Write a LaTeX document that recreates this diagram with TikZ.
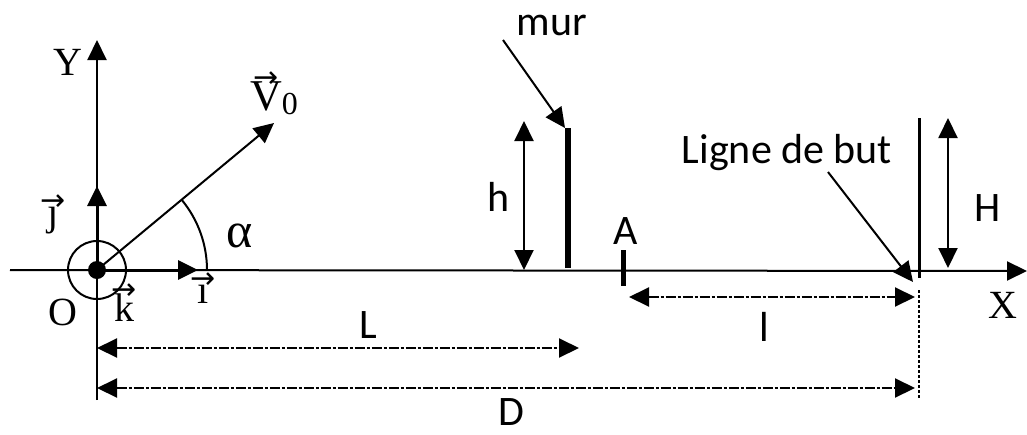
\documentclass[tikz,border=0pt]{standalone}
\usepackage{fontspec}
\setmainfont{Liberation Serif}
\newfontfamily\lbl{Carlito}
\newfontfamily\arrfont{DejaVu Sans}
\usetikzlibrary{arrows.meta}
\newcommand{\vecl}[2][0.55em]{\ooalign{#2\cr\hidewidth\raisebox{#1}{\arrfont\fontsize{30}{30}\selectfont →}\hidewidth\cr}}
\begin{document}
\begin{tikzpicture}[x=1pt,y=-1pt,
  tip/.style={-{Triangle[length=20pt,width=19pt]}},
  dtip/.style={{Triangle[length=20pt,width=19pt]}-{Triangle[length=20pt,width=19pt]}},
  axis/.style={line width=2pt},
  dimline/.style={line width=2pt,dash pattern=on 10pt off 2pt on 3pt off 2pt},
  sanslbl/.style={font=\lbl\fontsize{42}{42}\selectfont,inner sep=0pt},
  seriflbl/.style={font=\fontsize{40}{40}\selectfont,inner sep=0pt}]
\useasboundingbox (0,0) rectangle (1027,434);
\fill[white] (0,0) rectangle (1027,434);
% points
\coordinate (O) at (97,270);
\coordinate (xl) at (10,270);
\coordinate (xr) at (1027,271);
\coordinate (yb) at (97,400);
\coordinate (yt) at (97,40);
\coordinate (jt) at (97,186);
\coordinate (it) at (198,270);
\coordinate (vt) at (274,123);
% axes
\draw[axis,tip] (xl) -- (xr);
\draw[axis,tip] (yb) -- (yt);
\draw[line width=3pt,tip] (O) -- (jt);
\draw[line width=3pt,tip] (O) -- (it);
\draw[line width=2pt] (O) circle[radius=29];
\fill (O) circle[radius=9];
\draw[line width=2pt,tip] (O) -- (vt);
\draw[line width=2pt] ([xshift=110pt]O) arc[start angle=0,end angle=-39.6,radius=110];
% labels near origin
\node[seriflbl] (Ylbl) at (68,62) {Y};
\node[seriflbl] (Olbl) at (63,312) {O};
\node[seriflbl] (klbl) at (124,308) {\vecl{k}};
\node[seriflbl] (ilbl) at (203,294) {\vecl[0.36em]{ı}};
\node[seriflbl] (jlbl) at (53,216) {\vecl[0.36em]{ȷ}};
\node[font=\fontsize{44}{44}\selectfont,inner sep=0pt] (vlbl) at (274,98) {\vecl[0.52em]{V}\raisebox{-0.1em}{\fontsize{32}{32}\selectfont 0}};
\node[font=\fontsize{50}{50}\selectfont,inner sep=0pt] (alpha) at (240,236) {α};
% wall
\coordinate (wb) at (568,268);
\coordinate (wt) at (568,128);
\draw[line width=6pt] (wb) -- (wt);
\node[sanslbl] (mur) at (552,25) {mur};
\coordinate (mura) at (503,40);
\draw[line width=2pt,tip] (mura) -- ([xshift=-3pt]wt);
\coordinate (hb) at (524,270);
\coordinate (ht) at (524,121);
\draw[line width=2pt,dtip] (hb) -- (ht);
\node[sanslbl] (hlbl) at (499,197) {h};
% point A
\coordinate (At) at (623,250);
\coordinate (Ab) at (623,286);
\draw[line width=5pt] (At) -- (Ab);
\node[sanslbl] (Albl) at (626,231) {A};
% goal line
\coordinate (gt) at (919,118);
\coordinate (gb) at (919,278);
\draw[line width=3pt] (gt) -- (gb);
\coordinate (Ht) at (948,118);
\coordinate (Hb) at (948,268);
\draw[line width=2pt,dtip] (Hb) -- (Ht);
\node[sanslbl] (Hlbl) at (988,208) {H};
\node[sanslbl] (ligne) at (787,153) {Ligne de but};
\coordinate (la) at (828,172);
\coordinate (lb) at (913,282);
\draw[line width=2pt,tip] (la) -- (lb);
\node[seriflbl] (Xlbl) at (1003,305) {X};
% dimensions
\coordinate (l1) at (629,297);
\coordinate (l2) at (915,297);
\draw[dimline,dtip] (l1) -- (l2);
\node[sanslbl] (llbl) at (764,327) {l};
\coordinate (v1) at (919,290);
\coordinate (v2) at (919,398);
\draw[line width=2pt,dash pattern=on 3pt off 2pt] (v1) -- (v2);
\coordinate (L1) at (97,348);
\coordinate (L2) at (579,348);
\draw[dimline,dtip] (L1) -- (L2);
\node[sanslbl] (Llbl) at (368,325) {L};
\coordinate (D1) at (97,388);
\coordinate (D2) at (915,388);
\draw[dimline,dtip] (D1) -- (D2);
\node[sanslbl] (Dlbl) at (511,412) {D};
\end{tikzpicture}
\end{document}
